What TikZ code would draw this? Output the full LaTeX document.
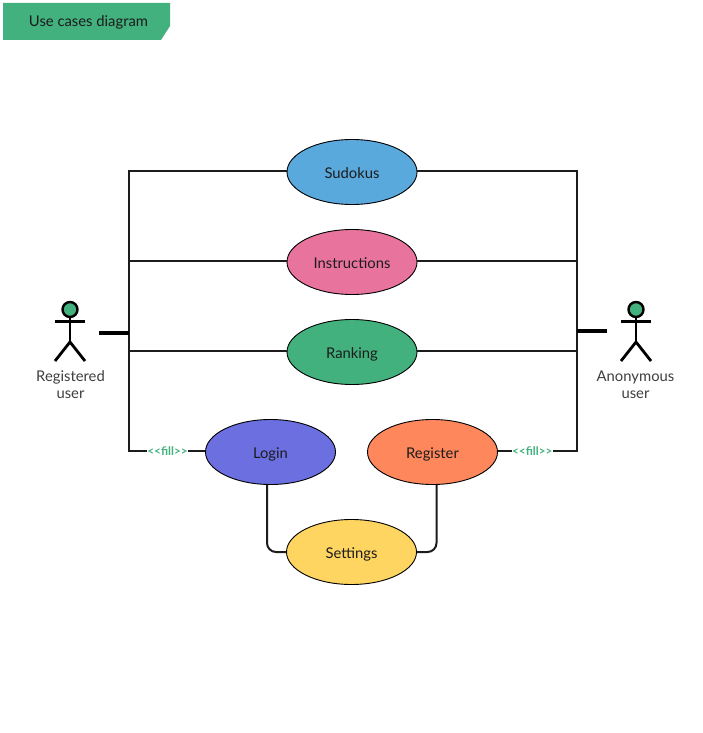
\documentclass[tikz,border=0pt]{standalone}
\usepackage{fontspec}
\setmainfont{Lato}
\usetikzlibrary{shapes.geometric}
\usetikzlibrary{positioning}
\definecolor{tagcol}{HTML}{42B17E}
\definecolor{sudokucol}{HTML}{5AA9DD}
\definecolor{instrcol}{HTML}{E8749E}
\definecolor{logincol}{HTML}{6B6FE0}
\definecolor{registercol}{HTML}{FF875C}
\definecolor{settingscol}{HTML}{FFD561}
\definecolor{inkcol}{HTML}{1C1C1C}

\begin{document}
\begin{tikzpicture}[
  x=1pt, y=-1pt,
  usecase/.style={draw, ellipse, black, line width=0.9pt, minimum width=130pt, minimum height=65pt, inner sep=0pt, text=inkcol, text height=13pt, text depth=0pt, font=\fontsize{14.8}{17}\selectfont},
  conn/.style={inkcol, line width=2pt},
  stub/.style={black, line width=4pt},
  limb/.style={black, line width=2.8pt},
  head/.style={draw=black, fill=tagcol, circle, line width=2.4pt, minimum size=15pt, inner sep=0pt},
  actorlabel/.style={align=center, text=inkcol!85, font=\fontsize{14.8}{17}\selectfont},
  fill label/.style={fill=white, inner sep=0.5pt, text=tagcol, font=\bfseries\fontsize{11.8}{12}\selectfont},
  up/.style={yshift=1pt},
]

\useasboundingbox (0,0) rectangle (703,733);

\fill[tagcol] (3,3) -- (170,3) -- (170,26) -- (161,40) -- (3,40) -- cycle;
\node (tag) [text=inkcol, text height=12pt, text depth=0pt, font=\fontsize{14.8}{17}\selectfont] at (88.5,21) {Use cases diagram};

\node (sudokus) [usecase, fill=sudokucol] at (352,172) {Sudokus};
\node (instructions) [usecase, fill=instrcol] at (352,262) {Instructions};
\node (ranking) [usecase, fill=tagcol] at (352,352) {Ranking};
\node (login) [usecase, fill=logincol] at (270.5,452) {Login};
\node (register) [usecase, fill=registercol] at (432.5,452) {Register};
\node (settings) [usecase, fill=settingscol] at (351.5,552) {Settings};

% actors
\foreach \name/\cx in {reg/70, anon/636} {
  \node (\name head) [head] at (\cx,309.5) {};
  \coordinate (\name hip) at (\cx,342);
  \draw[limb] (\name head.south) -- (\name hip);
  \draw[limb] (\cx-15,321.5) -- (\cx+15,321.5);
  \draw[limb] (\cx-15,361) -- (\name hip) -- (\cx+15,361);
}
\node (reglabel) [actorlabel] at (70.5,385) {Registered\\user};
\node (anonlabel) [actorlabel] at (635.5,385) {Anonymous\\user};

% left and right bus
\coordinate (busl1) at (128.5,171);
\coordinate (busl2) at (128.5,261);
\coordinate (busl3) at (128.5,351);
\coordinate (busl4) at (128.5,451);
\coordinate (busr1) at (577,171);
\coordinate (busr2) at (577,261);
\coordinate (busr3) at (577,351);
\coordinate (busr4) at (577,451);

\draw[conn, line join=miter] ([up]sudokus.west) -- (busl1) -- (busl4) -- node[fill label, pos=0.51] {<{}<fill>{}>} ([up]login.west);
\draw[conn, line join=miter] ([up]sudokus.east) -- (busr1) -- (busr4) -- node[fill label, pos=0.566] {<{}<fill>{}>} ([up]register.east);
\draw[conn] ([up]instructions.west) -- (busl2);
\draw[conn] ([up]instructions.east) -- (busr2);
\draw[conn] ([up]ranking.west) -- (busl3);
\draw[conn] ([up]ranking.east) -- (busr3);

\coordinate (stubl) at (128.5,332.5);
\coordinate (stubr) at (577,330.5);
\draw[stub] (stubl) -- ++(-29.5,0);
\draw[stub] (stubr) -- ++(29.5,0);

\draw[conn, rounded corners=9pt] (login.south -| 267,0) -- (267,552) -- (settings.west);
\draw[conn, rounded corners=9pt] (register.south -| 436.5,0) -- (436.5,552) -- (settings.east);

\end{tikzpicture}
\end{document}
